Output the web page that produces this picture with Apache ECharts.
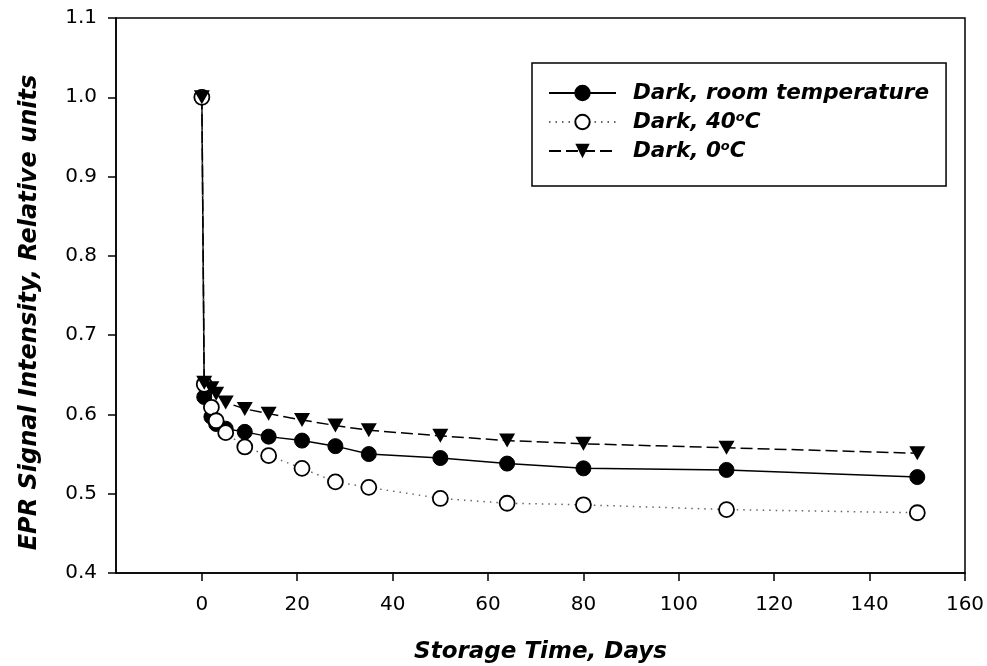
<!DOCTYPE html>
<html>
<head>
<meta charset="utf-8">
<script src="https://cdn.jsdelivr.net/npm/echarts@6/dist/echarts.min.js"></script>
<style>html,body{margin:0;padding:0;background:#fff}#c{width:987px;height:666px}</style>
</head>
<body>
<div id="c"></div>
<script>
const days = [0, 0.5, 2, 3, 5, 9, 14, 21, 28, 35, 50, 64, 80, 110, 150];
const roomTemp = [1.0, 0.622, 0.597, 0.588, 0.582, 0.578, 0.572, 0.567, 0.560, 0.550, 0.545, 0.538, 0.532, 0.530, 0.521];
const temp40 = [1.0, 0.638, 0.609, 0.592, 0.577, 0.559, 0.548, 0.532, 0.515, 0.508, 0.494, 0.488, 0.486, 0.480, 0.476];
const temp0 = [1.0, 0.640, 0.633, 0.626, 0.615, 0.607, 0.601, 0.593, 0.586, 0.580, 0.573, 0.567, 0.563, 0.558, 0.551];
const xTicks = [0, 20, 40, 60, 80, 100, 120, 140, 160];
const seriesNames = ['Dark, room temperature', 'Dark, 40oC', 'Dark, 0oC'];

const pairs = (ys) => days.map((d, i) => [d, ys[i]]);
const FONT = 'DejaVu Sans';
const triDown = 'path://M0,0 L16,0 L8,14 Z';

const chart = echarts.init(document.getElementById('c'), null, {renderer: 'canvas'});
const option = {
  animation: false,
  backgroundColor: '#fff',
  grid: {left: 116, right: 22, top: 18, bottom: 93, outerBoundsMode: 'none', containLabel: false, show: true, borderColor: '#000', borderWidth: 1.5, backgroundColor: 'transparent'},
  legend: {
    orient: 'vertical',
    left: 532, top: 63,
    width: 413,
    borderColor: '#000', borderWidth: 1.5,
    padding: [19, 17, 24, 16],
    itemGap: 7,
    itemWidth: 67, itemHeight: 18,
    data: seriesNames,
    formatter: function (name) {
      if (name === seriesNames[0]) return '{t|Dark, room temperature}';
      if (name === seriesNames[1]) return '{t|Dark, 40}{s|o}{t|C}';
      return '{t|Dark, 0}{s|o}{t|C}';
    },
    textStyle: {
      padding: [0, 0, 0, 12],
      rich: {
        t: {fontFamily: FONT, fontSize: 21.5, fontWeight: 'bold', fontStyle: 'italic', color: '#000', lineHeight: 22},
        s: {fontFamily: FONT, fontSize: 13, fontWeight: 'bold', fontStyle: 'italic', color: '#000', lineHeight: 10, verticalAlign: 'top'}
      }
    }
  },
  xAxis: {
    type: 'value', min: -18, max: 160,
    name: 'Storage Time, Days', nameLocation: 'middle', nameGap: 68,
    nameTextStyle: {fontFamily: FONT, fontSize: 23, fontWeight: 'bold', fontStyle: 'italic', color: '#000'},
    axisLine: {onZero: false, lineStyle: {color: '#000', width: 1.5}},
    axisTick: {show: true, inside: false, length: 8, customValues: xTicks, lineStyle: {color: '#000', width: 1.5}},
    axisLabel: {customValues: xTicks, margin: 22, color: '#000', fontSize: 20, fontFamily: FONT},
    splitLine: {show: false}
  },
  yAxis: {
    type: 'value', min: 0.4, max: 1.1, interval: 0.1,
    name: 'EPR Signal Intensity, Relative units', nameLocation: 'middle', nameGap: 74,
    nameTextStyle: {fontFamily: FONT, fontSize: 24, fontWeight: 'bold', fontStyle: 'italic', color: '#000', padding: [0, 34, 0, 0]},
    axisLine: {show: true, onZero: false, lineStyle: {color: '#000', width: 1.5}},
    axisTick: {show: true, inside: false, length: 8, lineStyle: {color: '#000', width: 1.5}},
    axisLabel: {margin: 19, color: '#000', fontSize: 20, fontFamily: FONT, formatter: v => v.toFixed(1)},
    splitLine: {show: false}
  },
  series: [
    {
      name: seriesNames[0], type: 'line', data: pairs(roomTemp),
      symbol: 'circle', symbolSize: 15,
      lineStyle: {color: '#000', width: 1.5, type: 'solid'},
      itemStyle: {color: '#000', borderColor: '#000', borderWidth: 1}
    },
    {
      name: seriesNames[1], type: 'line', data: pairs(temp40),
      symbol: 'circle', symbolSize: 15,
      lineStyle: {color: '#666', width: 1.5, type: [1.5, 5]},
      itemStyle: {color: '#fff', borderColor: '#000', borderWidth: 1.8}
    },
    {
      name: seriesNames[2], type: 'line', data: pairs(temp0),
      symbol: triDown, symbolSize: [16, 14],
      lineStyle: {color: '#000', width: 1.5, type: [12, 5]},
      itemStyle: {color: '#000', borderColor: '#000', borderWidth: 0}
    }
  ]
};
chart.setOption(option);
</script>
</body>
</html>
